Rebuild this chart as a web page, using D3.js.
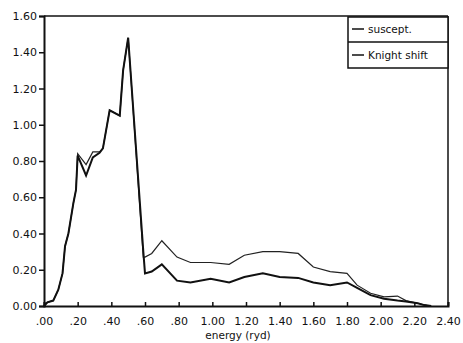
<!DOCTYPE html>
<html lang="en">
<head>
    <meta charset="UTF-8">
    <title>Susceptibility and Knight shift vs energy</title>
    <script src="https://d3js.org/d3.v7.min.js"></script>
    <style>
        body { margin: 0; background: #fff; }
        text { font-family: "DejaVu Sans", sans-serif; fill: #111; }
    </style>
</head>
<body>
    <svg id="chart" width="463" height="343"></svg>

    <script>
        // Data
        const energy = [0.00, 0.02, 0.055, 0.085, 0.11, 0.125, 0.145, 0.175, 0.19, 0.20,
            0.25, 0.29, 0.33, 0.35, 0.39, 0.45, 0.47, 0.50, 0.59, 0.60,
            0.64, 0.70, 0.79, 0.87, 0.99, 1.10, 1.19, 1.30, 1.40, 1.51,
            1.60, 1.70, 1.80, 1.86, 1.94, 2.02, 2.10, 2.15, 2.22, 2.26, 2.30];
        const suscept = [0.0, 0.02, 0.03, 0.09, 0.18, 0.33, 0.40, 0.57, 0.64, 0.84,
            0.78, 0.85, 0.85, 0.87, 1.08, 1.05, 1.30, 1.48, 0.27, 0.27,
            0.29, 0.36, 0.27, 0.24, 0.24, 0.23, 0.28, 0.30, 0.30, 0.29,
            0.215, 0.19, 0.18, 0.115, 0.07, 0.05, 0.055, 0.03, 0.015, 0.005, 0.0];
        const knight = [0.0, 0.02, 0.03, 0.09, 0.18, 0.33, 0.40, 0.57, 0.64, 0.83,
            0.72, 0.82, 0.845, 0.87, 1.08, 1.05, 1.30, 1.48, 0.30, 0.18,
            0.19, 0.23, 0.14, 0.13, 0.15, 0.13, 0.16, 0.18, 0.16, 0.155,
            0.13, 0.115, 0.13, 0.10, 0.06, 0.04, 0.03, 0.025, 0.015, 0.005, 0.0];
        const xTicks = [0, 0.2, 0.4, 0.6, 0.8, 1.0, 1.2, 1.4, 1.6, 1.8, 2.0, 2.2, 2.4];
        const yTicks = [0, 0.2, 0.4, 0.6, 0.8, 1.0, 1.2, 1.4, 1.6];
        const seriesNames = ["suscept.", "Knight shift"];

        const margin = { top: 16, right: 15, bottom: 37, left: 44 };
        const width = 463 - margin.left - margin.right;
        const height = 343 - margin.top - margin.bottom;

        const svg = d3.select("#chart")
            .append("g")
            .attr("transform", `translate(${margin.left},${margin.top})`);

        const x = d3.scaleLinear().domain([0, 2.4]).range([0, width]);
        const y = d3.scaleLinear().domain([0, 1.6]).range([height, 0]);

        // x labels like ".20", "1.00"
        const fmtX = d => d < 1 ? d3.format(".2f")(d).replace(/^0/, "") : d3.format(".2f")(d);

        // Axes
        const xAxis = svg.append("g")
            .attr("transform", `translate(0,${height})`)
            .call(d3.axisBottom(x).tickValues(xTicks).tickFormat(fmtX).tickSize(-4).tickPadding(11));
        xAxis.selectAll("text").style("font-size", "11px");

        const yAxis = svg.append("g")
            .call(d3.axisLeft(y).tickValues(yTicks).tickFormat(d3.format(".2f")).tickSize(5).tickPadding(2));
        yAxis.selectAll("text").style("font-size", "11px");

        svg.selectAll(".domain").attr("stroke", "#111").attr("stroke-width", 2);
        svg.selectAll(".tick line").attr("stroke", "#111").attr("stroke-width", 1.5);

        // Top and right frame
        svg.append("line").attr("x1", 0).attr("x2", width).attr("y1", 0).attr("y2", 0)
            .attr("stroke", "#111").attr("stroke-width", 1.5);
        svg.append("line").attr("x1", width).attr("x2", width).attr("y1", 0).attr("y2", height)
            .attr("stroke", "#111").attr("stroke-width", 1.5);

        // Lines
        const line = d3.line()
            .x((d, i) => x(energy[i]))
            .y(d => y(d));

        svg.append("path")
            .attr("d", line(suscept))
            .attr("fill", "none")
            .attr("stroke", "#222")
            .attr("stroke-width", 1.2);

        svg.append("path")
            .attr("d", line(knight))
            .attr("fill", "none")
            .attr("stroke", "#111")
            .attr("stroke-width", 2);

        // Axis title
        svg.append("text")
            .attr("x", 194)
            .attr("y", height + 33)
            .attr("text-anchor", "middle")
            .style("font-size", "10.5px")
            .text("energy (ryd)");

        // Legend
        const legend = svg.append("g")
            .attr("transform", `translate(${width - 100}, 1)`);

        legend.append("rect")
            .attr("width", 100)
            .attr("height", 51)
            .attr("fill", "#fff")
            .attr("stroke", "#111")
            .attr("stroke-width", 1.5);

        legend.append("line")
            .attr("x1", 0).attr("x2", 100).attr("y1", 25).attr("y2", 25)
            .attr("stroke", "#111").attr("stroke-width", 1.5);

        seriesNames.forEach((name, i) => {
            const row = legend.append("g")
                .attr("transform", `translate(0, ${12 + i * 26})`);
            row.append("line")
                .attr("x1", 4).attr("x2", 16)
                .attr("stroke", "#111").attr("stroke-width", 1.5);
            row.append("text")
                .attr("x", 20)
                .attr("y", 4)
                .style("font-size", "10.5px")
                .text(name);
        });
    </script>
</body>
</html>
